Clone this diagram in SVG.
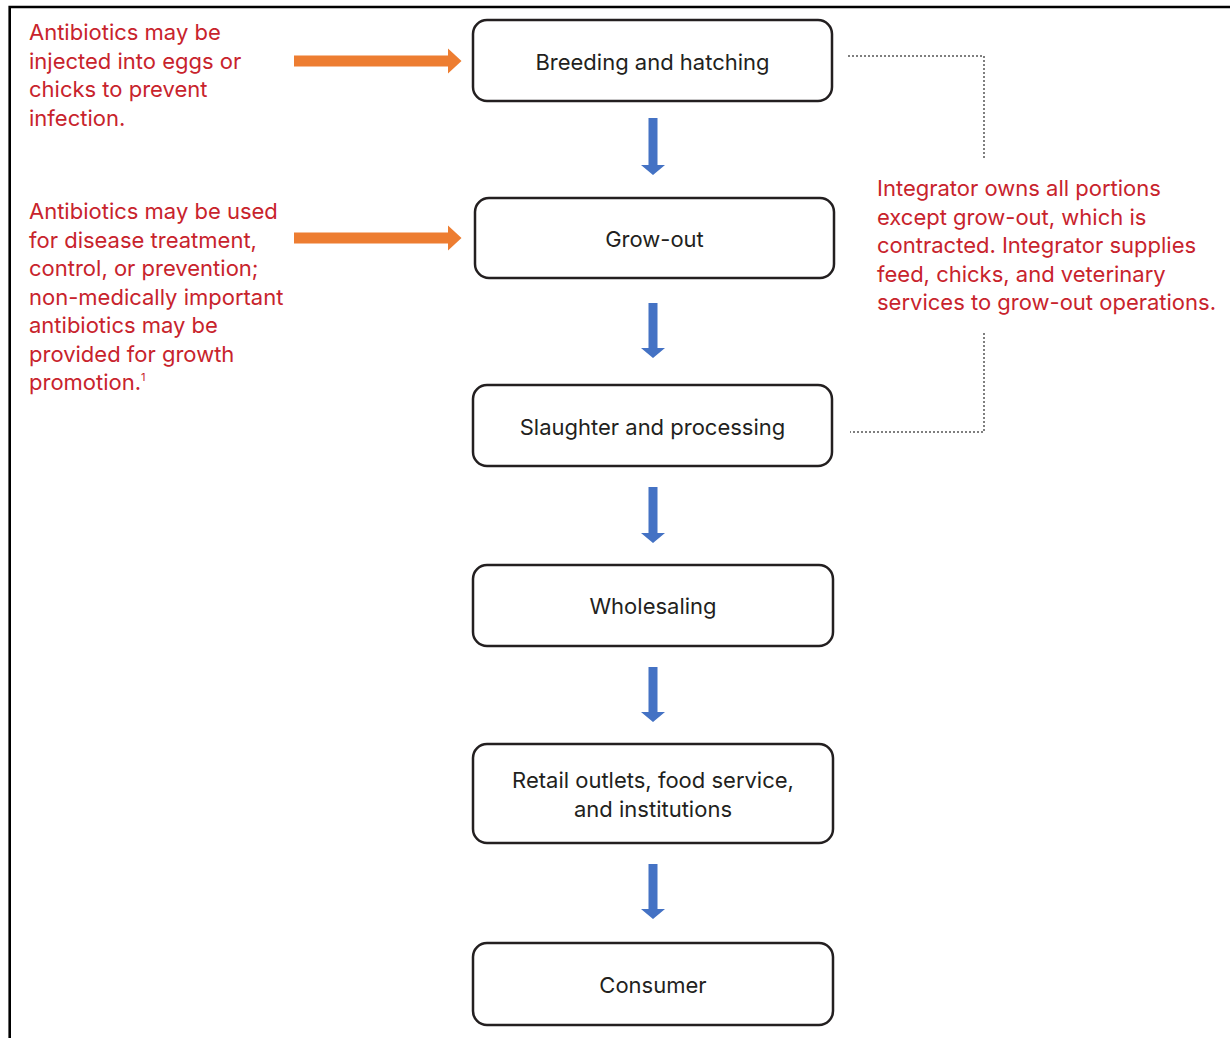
<svg xmlns="http://www.w3.org/2000/svg" width="1230" height="1038" viewBox="0 0 1230 1038">
<style>
.box{fill:#fff;stroke:#231f20;stroke-width:2.5}
.lbl{font-family:Inter,"Liberation Sans",sans-serif;font-size:22px;fill:#231f20;text-anchor:middle}
.note{font-family:Inter,"Liberation Sans",sans-serif;font-size:22px;fill:#c8232c}
.blue{fill:#4472c4}
.orange{fill:#ed7d31}
.dot{fill:none;stroke:#555;stroke-width:1.5;stroke-dasharray:2 2}
</style>
<rect width="1230" height="1038" fill="#fff"/>
<path d="M9.7 1038 V7 H1230" fill="none" stroke="#000" stroke-width="2.6"/>

<g id="connectors">
  <polygon class="orange" points="294,55.5 448,55.5 448,48.5 461.5,61 448,73.5 448,66.5 294,66.5"/>
  <polygon class="orange" points="294,232.5 448,232.5 448,225.5 461.5,238 448,250.5 448,243.5 294,243.5"/>
  <polygon class="blue" points="648.5,118 657.5,118 657.5,165 665,165 653,175 641,165 648.5,165"/>
  <polygon class="blue" points="648.5,303 657.5,303 657.5,348 665,348 653,358 641,348 648.5,348"/>
  <polygon class="blue" points="648.5,487 657.5,487 657.5,533 665,533 653,543 641,533 648.5,533"/>
  <polygon class="blue" points="648.5,667 657.5,667 657.5,712 665,712 653,722 641,712 648.5,712"/>
  <polygon class="blue" points="648.5,864 657.5,864 657.5,909 665,909 653,919 641,909 648.5,909"/>
  <path class="dot" d="M848 56 H984 V158"/>
  <path class="dot" d="M984 333 V432 H850"/>
</g>

<g id="node-breeding">
  <rect class="box" x="473" y="20" width="359" height="81" rx="14"/>
  <text class="lbl" x="652.5" y="70">Breeding and hatching</text>
</g>
<g id="node-growout">
  <rect class="box" x="475" y="198" width="359" height="80" rx="14"/>
  <text class="lbl" x="654.5" y="247">Grow-out</text>
</g>
<g id="node-slaughter">
  <rect class="box" x="473" y="385" width="359" height="81" rx="14"/>
  <text class="lbl" x="652.5" y="435">Slaughter and processing</text>
</g>
<g id="node-wholesaling">
  <rect class="box" x="473" y="565" width="360" height="81" rx="14"/>
  <text class="lbl" x="653" y="614">Wholesaling</text>
</g>
<g id="node-retail">
  <rect class="box" x="473" y="744" width="360" height="99" rx="14"/>
  <text class="lbl" x="653" y="788">Retail outlets, food service,</text>
  <text class="lbl" x="653" y="817">and institutions</text>
</g>
<g id="node-consumer">
  <rect class="box" x="473" y="943" width="360" height="82" rx="14"/>
  <text class="lbl" x="653" y="993">Consumer</text>
</g>

<g id="note-eggs">
  <text class="note" x="29" y="40">Antibiotics may be</text>
  <text class="note" x="29" y="68.5">injected into eggs or</text>
  <text class="note" x="29" y="97">chicks to prevent</text>
  <text class="note" x="29" y="125.5">infection.</text>
</g>
<g id="note-growout">
  <text class="note" x="29" y="219">Antibiotics may be used</text>
  <text class="note" x="29" y="247.5">for disease treatment,</text>
  <text class="note" x="29" y="276">control, or prevention;</text>
  <text class="note" x="29" y="304.5">non-medically important</text>
  <text class="note" x="29" y="333">antibiotics may be</text>
  <text class="note" x="29" y="361.5">provided for growth</text>
  <text class="note" x="29" y="390">promotion.<tspan font-size="11" dy="-9">1</tspan></text>
</g>
<g id="note-integrator">
  <text class="note" x="877" y="196">Integrator owns all portions</text>
  <text class="note" x="877" y="224.5">except grow-out, which is</text>
  <text class="note" x="877" y="253">contracted. Integrator supplies</text>
  <text class="note" x="877" y="281.5">feed, chicks, and veterinary</text>
  <text class="note" x="877" y="310">services to grow-out operations.</text>
</g>
</svg>
